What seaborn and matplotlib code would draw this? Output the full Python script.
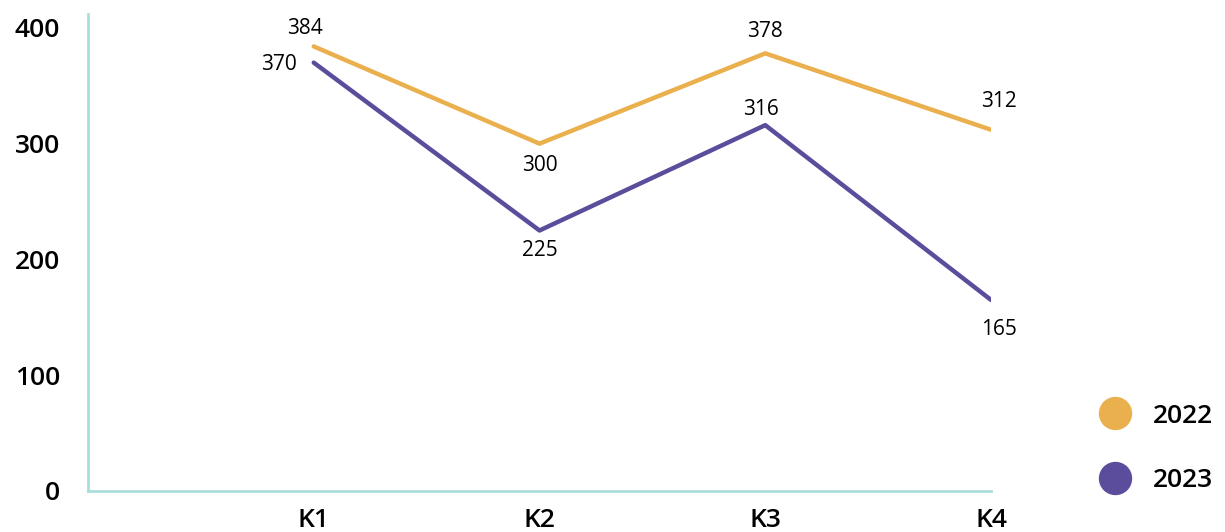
import pandas as pd
import matplotlib.pyplot as plt
import seaborn as sns
from matplotlib.lines import Line2D

# Chart data
quarters = ['K1', 'K2', 'K3', 'K4']
values_2022 = [384, 300, 378, 312]
values_2023 = [370, 225, 316, 165]
years = ['2022', '2023']
colors = {'2022': '#EBB04E', '2023': '#5B4C9C'}
axis_color = '#A9DEDA'

df = pd.DataFrame({
    'quarter': quarters * 2,
    'pos': list(range(len(quarters))) * 2,
    'value': values_2022 + values_2023,
    'year': ['2022'] * 4 + ['2023'] * 4,
})

sns.set_style('white')
plt.rcParams['font.family'] = ['Open Sans', 'DejaVu Sans']
plt.rcParams['text.color'] = 'black'

fig = plt.figure(figsize=(12.25, 5.32), dpi=100)
ax = fig.add_axes([0.0718, 0.0771, 0.7372, 0.8966])

sns.lineplot(data=df, x='pos', y='value', hue='year', palette=colors,
             linewidth=3.2, legend=False, ax=ax, sort=False)

# Data labels
offsets = {
    '2022': [(-9, 18), (0, -22), (0, 22), (8, 28)],
    '2023': [(-35, -2), (0, -20), (-4, 16), (8, -30)],
}
for year, vals in zip(years, [values_2022, values_2023]):
    for i, v in enumerate(vals):
        dx, dy = offsets[year][i]
        ax.annotate(str(v), (i, v), xytext=(dx, dy), textcoords='offset pixels',
                    ha='center', va='center', fontsize=15, color='black')

ax.set_xlim(-1, 3)
ax.set_ylim(0, 412)
ax.set_xticks(range(len(quarters)))
ax.set_xticklabels(quarters)
ax.set_yticks([0, 100, 200, 300, 400])
ax.set_xlabel('')
ax.set_ylabel('')

for s in ['top', 'right']:
    ax.spines[s].set_visible(False)
for s in ['left', 'bottom']:
    ax.spines[s].set_color(axis_color)
    ax.spines[s].set_linewidth(2)

ax.tick_params(axis='x', direction='in', length=8, width=2, color=axis_color,
               pad=12, labelsize=19, labelcolor='black')
ax.tick_params(axis='y', length=0, pad=20, labelsize=19, labelcolor='black')
for lbl in ax.get_xticklabels() + ax.get_yticklabels():
    lbl.set_fontweight('semibold')

handles = [Line2D([], [], marker='o', linestyle='', markersize=23,
                  markerfacecolor=colors[y], markeredgecolor=colors[y]) for y in years]
fig.legend(handles, years, loc='center left', bbox_to_anchor=(0.869, 0.157),
           frameon=False, handletextpad=0.45, labelspacing=1.5,
           prop={'size': 19, 'weight': 'semibold'})

fig.savefig('out.png', dpi=100)
